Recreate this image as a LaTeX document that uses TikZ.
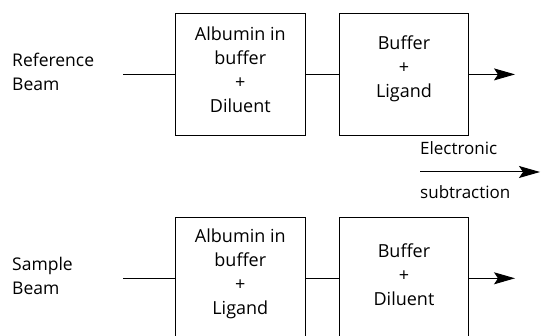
\documentclass[tikz,border=0pt]{standalone}
\usepackage{fontspec}
\setmainfont{Open Sans}
\usetikzlibrary{arrows.meta}
\begin{document}
\begin{tikzpicture}[x=1pt,y=-1pt,
  cell/.style={draw,line width=0.8pt,minimum width=129.5pt,minimum height=122pt,inner sep=0pt},
  txt/.style={font=\fontsize{18}{24}\selectfont,align=center,inner sep=0pt},
  note/.style={font=\fontsize{17}{20}\selectfont,inner sep=0pt,anchor=base west},
  side/.style={font=\fontsize{17.5}{24}\selectfont,align=left,anchor=west,inner sep=0pt},
  beam/.style={line width=0.8pt},
  outarrow/.style={line width=1pt,-{Stealth[length=21pt,width=12pt,inset=4pt]}}]
\useasboundingbox (0,0) rectangle (545,336);
% reference beam path
\node[side] (rb) at (12,72) {Reference\\Beam};
\coordinate (rin) at (123,74.4);
\node[cell] (r1) at (240.3,74.4) {};
\node[cell] (r2) at (404,74.4) {};
\coordinate (rout) at (515,74.4);
\node[txt] at (240.3,70) {Albumin in\\buffer\\+\\Diluent};
\node[txt] at (404,69) {Buffer\\+\\Ligand};
\draw[beam] (rin) -- (r1.west);
\draw[beam] (r1.east) -- (r2.west);
\draw[outarrow] (r2.east) -- (rout);
% electronic subtraction
\node[note] (el) at (420,155) {Electronic};
\node[note] (su) at (420,199) {subtraction};
\coordinate (sa) at (420,172);
\coordinate (sb) at (540,172);
\draw[outarrow] (sa) -- (sb);
% sample beam path
\node[side] (sbm) at (12,276) {Sample\\Beam};
\coordinate (sin) at (123,278.3);
\node[cell] (s1) at (240.3,278.3) {};
\node[cell] (s2) at (404,278.3) {};
\coordinate (sout) at (515,278.3);
\node[txt] at (240.3,274) {Albumin in\\buffer\\+\\Ligand};
\node[txt] at (404,275) {Buffer\\+\\Diluent};
\draw[beam] (sin) -- (s1.west);
\draw[beam] (s1.east) -- (s2.west);
\draw[outarrow] (s2.east) -- (sout);
\end{tikzpicture}
\end{document}
